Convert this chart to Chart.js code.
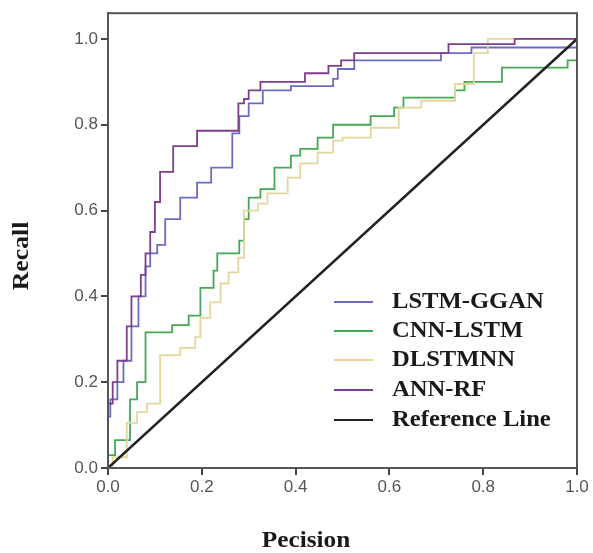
<!DOCTYPE html>
<html>
<head>
<meta charset="utf-8">
<script src="https://cdn.jsdelivr.net/npm/chart.js@4.4.1/dist/chart.umd.min.js"></script>
<style>
  html, body { margin: 0; padding: 0; background: #fff; }
  #wrap { width: 593px; height: 553px; }
</style>
</head>
<body>
<div id="wrap"><canvas id="myChart" width="593" height="553"></canvas></div>
<script>
const seriesNames = ['LSTM-GGAN', 'CNN-LSTM', 'DLSTMNN', 'ANN-RF', 'Reference Line'];
const tickValues = [0, 0.2, 0.4, 0.6, 0.8, 1.0];
const xTitle = 'Pecision';
const yTitle = 'Recall';

// LSTM-GGAN (blue)
const ggan_x = [0, 0, 0.005, 0.02, 0.033, 0.05, 0.065, 0.08, 0.09, 0.105, 0.122, 0.154, 0.19, 0.22, 0.265, 0.28, 0.30, 0.33, 0.39, 0.48, 0.49, 0.525, 0.71, 0.775, 0.96, 1.0];
const ggan_y = [0, 0.12, 0.16, 0.2, 0.25, 0.33, 0.40, 0.47, 0.50, 0.52, 0.58, 0.63, 0.665, 0.70, 0.78, 0.82, 0.85, 0.88, 0.89, 0.907, 0.93, 0.95, 0.967, 0.98, 0.98, 1.0];

// CNN-LSTM (green)
const cnn_x = [0, 0, 0.015, 0.047, 0.062, 0.08, 0.137, 0.172, 0.197, 0.225, 0.233, 0.28, 0.29, 0.30, 0.325, 0.355, 0.39, 0.41, 0.447, 0.48, 0.56, 0.61, 0.63, 0.74, 0.76, 0.84, 0.98, 1.0];
const cnn_y = [0, 0.03, 0.065, 0.16, 0.2, 0.316, 0.333, 0.355, 0.42, 0.46, 0.50, 0.53, 0.58, 0.63, 0.65, 0.70, 0.728, 0.744, 0.77, 0.80, 0.82, 0.84, 0.863, 0.88, 0.90, 0.933, 0.95, 1.0];

// DLSTMNN (pale yellow)
const dl_x = [0, 0.01, 0.04, 0.062, 0.083, 0.111, 0.154, 0.186, 0.197, 0.218, 0.24, 0.257, 0.278, 0.29, 0.32, 0.34, 0.383, 0.41, 0.447, 0.48, 0.50, 0.56, 0.62, 0.668, 0.74, 0.78, 0.81, 1.0];
const dl_y = [0, 0.025, 0.105, 0.13, 0.15, 0.263, 0.28, 0.305, 0.35, 0.386, 0.43, 0.456, 0.49, 0.60, 0.616, 0.64, 0.677, 0.71, 0.735, 0.763, 0.77, 0.793, 0.84, 0.856, 0.895, 0.967, 1.0, 1.0];

// ANN-RF (purple)
const ann_x = [0, 0, 0.01, 0.02, 0.04, 0.05, 0.07, 0.08, 0.09, 0.10, 0.111, 0.139, 0.19, 0.278, 0.29, 0.30, 0.325, 0.42, 0.47, 0.497, 0.525, 0.726, 0.867, 1.0];
const ann_y = [0, 0.15, 0.2, 0.25, 0.33, 0.4, 0.45, 0.5, 0.55, 0.62, 0.69, 0.75, 0.786, 0.85, 0.86, 0.88, 0.90, 0.92, 0.937, 0.95, 0.967, 0.988, 1.0, 1.0];

// Reference line
const ref_x = [0, 1];
const ref_y = [0, 1];

const colors = ['#6b6bc4', '#46a856', '#e3d79e', '#7d3f8c', '#222222'];

function pts(xs, ys) {
    return xs.map((x, i) => ({ x: x, y: ys[i] }));
}

const serifBold = 'bold 23px "Liberation Serif", "Times New Roman", serif';

// box around the plot, axis titles and the legend inside the plot
const framePlugin = {
    id: 'frame',
    afterDraw(chart) {
        const ctx = chart.ctx;
        const a = chart.chartArea;
        ctx.save();
        ctx.strokeStyle = '#555';
        ctx.lineWidth = 2;
        ctx.strokeRect(a.left, a.top, a.right - a.left, a.bottom - a.top);

        ctx.font = serifBold;
        ctx.textBaseline = 'middle';
        ctx.fillStyle = '#1a1a1a';

        // axis titles
        ctx.save();
        ctx.translate(306, 541);
        ctx.scale(1.1, 1);
        ctx.textAlign = 'center';
        ctx.fillText(xTitle, 0, 0);
        ctx.restore();

        ctx.save();
        ctx.translate(22, 256);
        ctx.rotate(-Math.PI / 2);
        ctx.scale(1.12, 1);
        ctx.textAlign = 'center';
        ctx.fillText(yTitle, 0, 0);
        ctx.restore();

        // legend
        const rows = [302, 331, 360, 390, 420];
        seriesNames.forEach((name, i) => {
            ctx.strokeStyle = colors[i];
            ctx.lineWidth = 2;
            ctx.beginPath();
            ctx.moveTo(334, rows[i]);
            ctx.lineTo(373, rows[i]);
            ctx.stroke();
            ctx.save();
            ctx.translate(392, rows[i]);
            ctx.scale(1.07, 1);
            ctx.textAlign = 'left';
            ctx.fillText(name, 0, 0);
            ctx.restore();
        });
        ctx.restore();
    }
};

function renderGraph() {
    const ctx = document.getElementById('myChart').getContext('2d');

    const allX = [ggan_x, cnn_x, dl_x, ann_x, ref_x];
    const allY = [ggan_y, cnn_y, dl_y, ann_y, ref_y];

    const datasets = seriesNames.map((name, i) => ({
        label: name,
        data: pts(allX[i], allY[i]),
        borderColor: colors[i],
        borderWidth: i === 4 ? 2.5 : 1.8,
        pointRadius: 0,
        fill: false,
        stepped: i === 4 ? false : 'before',
        order: i === 4 ? 0 : 5 - i
    }));

    const tickFont = { family: '"Liberation Sans", Arial, sans-serif', size: 17 };

    new Chart(ctx, {
        type: 'line',
        data: { datasets: datasets },
        options: {
            responsive: false,
            animation: false,
            layout: { padding: { top: 12, right: 16, left: 0, bottom: 0 } },
            plugins: {
                legend: { display: false },
                tooltip: { enabled: false }
            },
            scales: {
                x: {
                    type: 'linear',
                    min: 0,
                    max: 1,
                    afterBuildTicks: s => { s.ticks = tickValues.map(v => ({ value: v })); },
                    afterFit: s => { s.height = 85; },
                    grid: { drawOnChartArea: false, drawTicks: true, tickLength: 7, color: '#444', lineWidth: 2 },
                    border: { display: true, color: '#444', width: 2 },
                    ticks: {
                        font: tickFont,
                        color: '#555',
                        padding: 2,
                        callback: v => v.toFixed(1)
                    }
                },
                y: {
                    type: 'linear',
                    min: 0,
                    max: 1.06,
                    afterBuildTicks: s => { s.ticks = tickValues.map(v => ({ value: v })); },
                    afterFit: s => { s.width = 108; },
                    grid: { drawOnChartArea: false, drawTicks: true, tickLength: 7, color: '#444', lineWidth: 2 },
                    border: { display: true, color: '#444', width: 2 },
                    ticks: {
                        font: tickFont,
                        color: '#555',
                        padding: 3,
                        callback: v => v.toFixed(1)
                    }
                }
            }
        },
        plugins: [framePlugin]
    });
}

renderGraph();
</script>
</body>
</html>
